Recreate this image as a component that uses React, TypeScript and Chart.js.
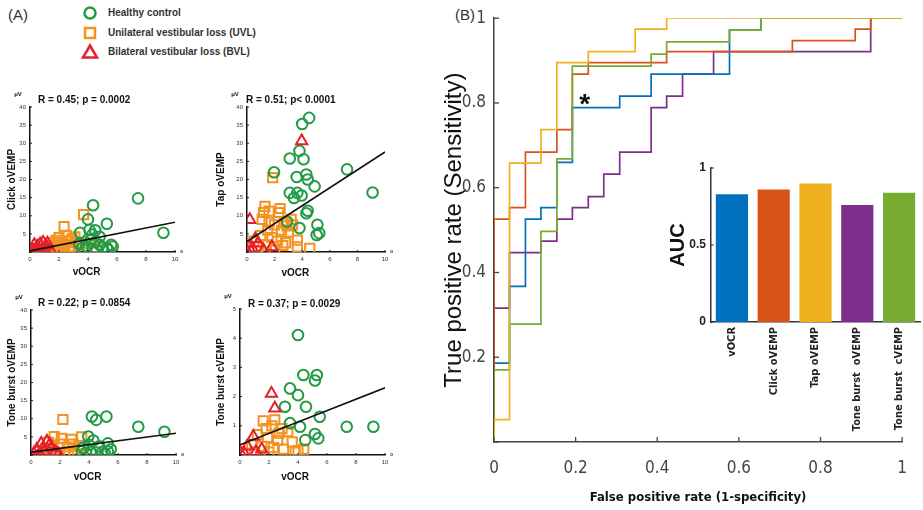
import React, { useEffect, useRef } from "react";
import { Chart, registerables } from "chart.js";

Chart.register(...registerables);

const SANS = "'Liberation Sans', Arial, Helvetica, sans-serif";
const NARROW = "'Liberation Sans Narrow', 'Arial Narrow', 'DejaVu Sans Condensed', 'Liberation Sans', Arial, sans-serif";
Chart.defaults.font.family = SANS;

const C_HEALTHY = "#239b45";
const C_UVL = "#f5921f";
const C_BVL = "#e4212b";

// ---------- Panel A data: [vOCR, amplitude] ----------
const CLICK_HEALTHY = [[7.45,14.8],[9.2,5.3],[4.35,12.9],[4.0,9.0],[5.3,7.8],[3.45,5.3],[4.1,6.1],[4.5,6.0],[4.3,4.8],[4.8,4.2],[5.6,2.0],[5.3,1.1],[3.6,1.1],[3.9,1.6],[4.8,2.0],[5.4,0.6],[4.5,2.8],[4.2,3.5],[3.8,0.6],[5.0,1.2],[4.6,0.5],[3.4,2.2],[5.7,1.5]];
const CLICK_UVL = [[3.7,10.3],[2.35,7.0],[2.5,4.6],[2.0,4.0],[1.8,3.2],[2.2,2.6],[2.7,3.1],[1.5,1.6],[1.7,0.5],[2.0,1.2],[2.4,0.8],[2.8,1.5],[3.0,0.4],[1.2,0.8],[3.2,2.6],[1.9,2.0],[2.9,3.6],[1.6,2.6],[3.4,0.9],[2.3,1.9],[4.0,2.4],[4.4,1.2],[0.8,0.3],[1.3,0.2],[2.7,0.2],[2.1,0.3],[3.1,4.2]];
const CLICK_BVL = [[0.2,0.5],[0.5,1.5],[0.7,2.2],[0.9,2.6],[1.1,1.8],[0.4,0.8],[0.8,0.6],[1.2,2.4],[0.6,0.2],[1.0,1.0],[0.3,2.0],[0.1,0.2],[1.4,0.6]];
const CLICK_FIT = [0.3, 8.2];

const TAP_HEALTHY = [[4.5,37],[4.0,35.3],[9.1,16.4],[7.25,22.8],[3.8,27.9],[3.1,25.8],[4.1,25.6],[1.96,22],[3.6,20.7],[4.3,21.4],[4.4,20],[4.9,18.1],[3.1,16.3],[3.65,16.3],[3.96,15.6],[3.4,14.9],[4.4,11.4],[4.3,10.7],[3.8,6.6],[5.1,7.5],[5.24,5.2],[5.05,4.7],[2.9,8.4]];
const TAP_UVL = [[1.86,20.5],[1.3,12.6],[1.6,11.3],[1.2,10.9],[2.3,10.9],[3.2,9.0],[2.7,8.0],[2.0,7.5],[1.5,6.0],[2.5,6.0],[1.0,4.5],[1.8,4.0],[2.2,3.0],[3.0,5.5],[2.9,7.2],[3.65,3.3],[3.65,1.4],[4.55,1.0],[1.4,2.0],[2.6,1.8],[0.8,1.5],[2.0,0.8],[3.3,7.5],[1.6,8.2],[2.4,12.0],[1.1,9.0],[0.5,3.0],[2.8,2.5]];
const TAP_BVL = [[3.96,30.6],[0.2,8.9],[0.8,2.4],[0.0,0.3],[1.8,1.4],[0.4,1.0],[0.6,3.6],[0.3,0.1],[1.2,0.5]];
const TAP_FIT = [2.9, 27.6];

const TBO_HEALTHY = [[4.2,10.6],[4.5,9.7],[5.2,10.6],[7.4,7.8],[9.2,6.4],[3.95,5.1],[5.3,3.2],[4.3,4.0],[3.5,1.0],[3.8,0.6],[4.1,0.8],[4.5,0.7],[4.9,0.8],[5.3,1.0],[5.5,1.6],[3.6,2.0],[4.7,2.4],[5.1,0.4],[4.0,2.8]];
const TBO_UVL = [[2.2,9.8],[1.6,5.1],[2.8,4.3],[3.5,5.0],[1.2,3.5],[2.0,3.0],[2.5,2.2],[1.5,1.5],[3.0,1.0],[1.8,0.6],[2.3,0.4],[0.9,0.3],[2.9,3.0],[3.3,2.5],[1.0,1.8],[2.6,0.9],[3.6,0.3],[1.4,0.5],[2.1,4.6]];
const TBO_BVL = [[0.7,3.2],[1.1,3.8],[0.4,1.5],[0.9,1.0],[1.4,2.0],[0.2,0.4],[0.6,0.5],[1.7,0.8],[1.9,0.3],[1.3,3.0]];
const TBO_FIT = [0.8, 6.0];

const TBC_HEALTHY = [[4.0,4.11],[4.37,2.74],[5.3,2.74],[5.17,2.55],[3.45,2.28],[4.0,2.05],[3.1,1.65],[4.55,1.65],[5.5,1.31],[3.45,1.09],[4.14,0.97],[7.36,0.97],[9.2,0.97],[5.17,0.72],[5.4,0.57],[4.5,0.51]];
const TBC_UVL = [[1.6,1.17],[2.2,1.0],[2.9,0.9],[3.3,0.8],[1.2,0.7],[1.9,0.6],[2.6,0.5],[3.6,0.45],[1.5,0.3],[2.3,0.25],[3.0,0.2],[4.0,0.15],[0.8,0.35],[1.0,0.1],[2.0,0.1],[2.7,0.75],[3.8,0.1],[4.4,0.2],[1.8,0.9],[2.4,1.2]];
const TBC_BVL = [[2.17,2.11],[2.4,1.6],[0.92,0.63],[0.0,0.1],[1.1,0.1],[0.5,0.3],[0.3,0.05],[1.5,0.2]];
const TBC_FIT = [0.35, 2.3];

// ---------- Panel B data ----------
const ROC_NAMES = ["vOCR", "Click oVEMP", "Tap oVEMP", "Tone burst oVEMP", "Tone burst cVEMP"];
const ROC_COLORS = ["#0072BD", "#D95319", "#EDB120", "#7E2F8E", "#77AC30"];
const VOCR_FPR = [0, 0, 0.038, 0.077, 0.115, 0.154, 0.192, 0.308, 0.385, 0.577, 0.654, 1];
const VOCR_TPR = [0, 0.186, 0.367, 0.526, 0.553, 0.66, 0.789, 0.816, 0.868, 0.972, 1, 1];
const CLICK_FPR = [0, 0, 0.038, 0.077, 0.154, 0.192, 0.231, 0.423, 0.731, 0.885, 0.923, 1];
const CLICK_TPR = [0, 0.526, 0.553, 0.684, 0.737, 0.868, 0.895, 0.921, 0.947, 0.974, 1, 1];
const TAP_FPR = [0, 0, 0.038, 0.115, 0.154, 0.231, 0.346, 0.423, 1];
const TAP_TPR = [0, 0.053, 0.658, 0.737, 0.895, 0.921, 0.974, 1, 1];
const TBO_FPR = [0, 0, 0.038, 0.115, 0.154, 0.192, 0.231, 0.269, 0.308, 0.385, 0.423, 0.462, 0.538, 0.923, 1];
const TBO_TPR = [0, 0.316, 0.447, 0.474, 0.526, 0.553, 0.579, 0.632, 0.684, 0.789, 0.816, 0.868, 0.921, 1, 1];
const TBC_FPR = [0, 0, 0.038, 0.115, 0.154, 0.192, 0.385, 0.423, 0.577, 0.654, 1];
const TBC_TPR = [0, 0.17, 0.278, 0.497, 0.668, 0.887, 0.915, 0.944, 0.972, 1, 1];

const AUC_LABELS = ["vOCR", "Click oVEMP", "Tap oVEMP", "Tone burst  oVEMP", "Tone burst  cVEMP"];
const AUC_VALUES = [0.83, 0.86, 0.90, 0.76, 0.84];

const toXY = (pts: number[][]) => pts.map(([x, y]) => ({ x, y }));

type Panel = {
  yTitle: string; stat: string; healthy: number[][]; uvl: number[][]; bvl: number[][]; fit: number[];
  yMax: number; yStep: number;
  left: number; top: number; yW: number; padR: number; padT: number; titlePad: number;
  statDx: number; statDy: number; xLabelAt: number; xLabelDy: number;
};

const PANELS: Panel[] = [
  { yTitle: "Click oVEMP", stat: "R = 0.45; p = 0.0002", healthy: CLICK_HEALTHY, uvl: CLICK_UVL, bvl: CLICK_BVL, fit: CLICK_FIT, yMax: 40, yStep: 5,
    left: 0, top: 80, yW: 30, padR: 25, padT: 27, titlePad: 6, statDx: 8, statDy: -7, xLabelAt: 3.9, xLabelDy: 20 },
  { yTitle: "Tap oVEMP", stat: "R = 0.51; p< 0.0001", healthy: TAP_HEALTHY, uvl: TAP_UVL, bvl: TAP_BVL, fit: TAP_FIT, yMax: 40, yStep: 5,
    left: 200, top: 80, yW: 47, padR: 15, padT: 27, titlePad: 15, statDx: -1, statDy: -7, xLabelAt: 3.5, xLabelDy: 21 },
  { yTitle: "Tone burst oVEMP", stat: "R = 0.22; p = 0.0854", healthy: TBO_HEALTHY, uvl: TBO_UVL, bvl: TBO_BVL, fit: TBO_FIT, yMax: 40, yStep: 5,
    left: 0, top: 283, yW: 31, padR: 24, padT: 27, titlePad: 6, statDx: 7, statDy: -7, xLabelAt: 3.9, xLabelDy: 22 },
  { yTitle: "Tone burst cVEMP", stat: "R = 0.37; p = 0.0029", healthy: TBC_HEALTHY, uvl: TBC_UVL, bvl: TBC_BVL, fit: TBC_FIT, yMax: 5, yStep: 1,
    left: 200, top: 283, yW: 40, padR: 15, padT: 26, titlePad: 15, statDx: 8, statDy: -5, xLabelAt: 3.8, xLabelDy: 22 },
];

function scatterConfig(p: Panel): any {
  const decor = {
    id: "scatterDecor",
    afterDraw(chart: any) {
      const { ctx, chartArea: a, scales } = chart;
      ctx.save();
      ctx.strokeStyle = "#222";
      ctx.lineWidth = 1;
      scales.x.ticks.forEach((t: any) => {
        const px = scales.x.getPixelForValue(t.value);
        ctx.beginPath(); ctx.moveTo(px, a.bottom); ctx.lineTo(px, a.bottom - 2); ctx.stroke();
      });
      scales.y.ticks.forEach((t: any) => {
        const py = scales.y.getPixelForValue(t.value);
        ctx.beginPath(); ctx.moveTo(a.left, py); ctx.lineTo(a.left + 2, py); ctx.stroke();
      });
      ctx.fillStyle = "#111";
      ctx.textBaseline = "middle";
      ctx.textAlign = "left";
      ctx.font = `bold 10px ${SANS}`;
      ctx.fillText(p.stat, a.left + p.statDx, a.top + p.statDy);
      ctx.textAlign = "center";
      ctx.font = `bold 10px ${SANS}`;
      ctx.fillText("vOCR", scales.x.getPixelForValue(p.xLabelAt), a.bottom + p.xLabelDy);
      ctx.font = `bold 6px ${SANS}`;
      ctx.fillText("\u03bcV", a.left - 12, a.top - 13);
      ctx.font = `bold 8px ${SANS}`;
      ctx.textAlign = "left";
      ctx.fillText("\u00b0", a.right + 5, a.bottom + 2);
      ctx.restore();
    },
  };
  const tickFont = { size: 6, family: SANS };
  return {
    type: "scatter",
    data: {
      datasets: [
        { type: "line", label: "fit", data: [{ x: 0, y: p.fit[0] }, { x: 10, y: p.fit[1] }], borderColor: "#111", borderWidth: 1.6, pointRadius: 0, fill: false },
        { label: "Bilateral vestibular loss (BVL)", data: toXY(p.bvl), pointStyle: "triangle", pointRadius: 6.5, borderColor: C_BVL, pointBorderColor: C_BVL, backgroundColor: "rgba(0,0,0,0)", pointBackgroundColor: "rgba(0,0,0,0)", borderWidth: 2 },
        { label: "Healthy control", data: toXY(p.healthy), pointStyle: "circle", pointRadius: 5.3, borderColor: C_HEALTHY, pointBorderColor: C_HEALTHY, backgroundColor: "rgba(0,0,0,0)", pointBackgroundColor: "rgba(0,0,0,0)", borderWidth: 2 },
        { label: "Unilateral vestibular loss (UVL)", data: toXY(p.uvl), pointStyle: "rect", pointRadius: 6.5, borderColor: C_UVL, pointBorderColor: C_UVL, backgroundColor: "rgba(0,0,0,0)", pointBackgroundColor: "rgba(0,0,0,0)", borderWidth: 2 },
      ],
    },
    options: {
      animation: false,
      responsive: false,
      events: [],
      layout: { padding: { left: 0, right: p.padR, top: p.padT, bottom: 0 } },
      plugins: { legend: { display: false }, tooltip: { enabled: false } },
      scales: {
        x: {
          type: "linear", min: 0, max: 10,
          ticks: { stepSize: 2, font: tickFont, color: "#333", padding: 4 },
          grid: { display: false, drawTicks: false },
          border: { display: true, color: "#111", width: 1.5 },
          afterFit: (s: any) => { s.height = 28; },
        },
        y: {
          type: "linear", min: 0, max: p.yMax,
          ticks: { stepSize: p.yStep, font: tickFont, color: "#333", padding: 4, callback: (v: any) => (Number(v) === 0 ? "" : String(v)) },
          grid: { display: false, drawTicks: false },
          border: { display: true, color: "#111", width: 1.5 },
          title: { display: true, text: p.yTitle, font: { size: 10, weight: "bold", family: SANS }, color: "#111", padding: { top: p.titlePad, bottom: 0 } },
          afterFit: (s: any) => { s.width = p.yW; },
        },
      },
    },
    plugins: [decor],
  };
}

const fmtTick = (v: any) => {
  const n = Math.round(Number(v) * 10) / 10;
  return String(n);
};

function rocConfig(): any {
  const fprs = [VOCR_FPR, CLICK_FPR, TAP_FPR, TBO_FPR, TBC_FPR];
  const tprs = [VOCR_TPR, CLICK_TPR, TAP_TPR, TBO_TPR, TBC_TPR];
  const drawOrder = [2, 4, 1, 0, 3]; // first is on top
  const decor = {
    id: "rocDecor",
    afterDraw(chart: any) {
      const { ctx, chartArea: a, scales } = chart;
      ctx.save();
      ctx.strokeStyle = "#444";
      ctx.lineWidth = 1.3;
      scales.x.ticks.forEach((t: any) => {
        const px = scales.x.getPixelForValue(t.value);
        ctx.beginPath(); ctx.moveTo(px, a.bottom); ctx.lineTo(px, a.bottom - 5); ctx.stroke();
      });
      scales.y.ticks.forEach((t: any) => {
        const py = scales.y.getPixelForValue(t.value);
        ctx.beginPath(); ctx.moveTo(a.left, py); ctx.lineTo(a.left + 5, py); ctx.stroke();
      });
      ctx.fillStyle = "#111";
      ctx.font = `bold 28px ${SANS}`;
      ctx.textAlign = "center";
      ctx.textBaseline = "middle";
      ctx.fillText("*", scales.x.getPixelForValue(0.222), scales.y.getPixelForValue(0.809) + 6);
      ctx.restore();
    },
  };
  const tickFont = { size: 17, family: NARROW };
  return {
    type: "line",
    data: {
      datasets: drawOrder.map((i) => ({
        label: ROC_NAMES[i],
        data: fprs[i].map((x, k) => ({ x, y: tprs[i][k] })),
        borderColor: ROC_COLORS[i],
        borderWidth: 1.7,
        pointRadius: 0,
        stepped: "before",
        fill: false,
      })),
    },
    options: {
      animation: false,
      responsive: false,
      events: [],
      layout: { padding: { left: 0, right: 4, top: 17, bottom: 0 } },
      plugins: { legend: { display: false }, tooltip: { enabled: false } },
      scales: {
        x: {
          type: "linear", min: 0, max: 1,
          ticks: { stepSize: 0.2, font: tickFont, color: "#444", padding: 16, callback: fmtTick },
          grid: { display: false, drawTicks: false },
          border: { display: true, color: "#444", width: 1.5 },
          title: { display: true, text: "False positive rate (1-specificity)", font: { size: 13, weight: "bold", family: NARROW }, color: "#111", padding: { top: 0, bottom: 5 } },
          afterFit: (s: any) => { s.height = 68; },
        },
        y: {
          type: "linear", min: 0, max: 1,
          ticks: { stepSize: 0.2, font: tickFont, color: "#444", padding: 8, callback: (v: any) => (Number(v) === 0 ? "" : fmtTick(v)) },
          grid: { display: false, drawTicks: false },
          border: { display: true, color: "#444", width: 1.5 },
          title: { display: true, text: "True positive rate (Sensitivity)", font: { size: 24, family: SANS }, color: "#111", padding: { top: 0, bottom: 0 } },
          afterFit: (s: any) => { s.width = 54; },
        },
      },
    },
    plugins: [decor],
  };
}

function aucConfig(): any {
  const decor = {
    id: "aucDecor",
    afterDraw(chart: any) {
      const { ctx, chartArea: a, scales } = chart;
      ctx.save();
      ctx.strokeStyle = "#333";
      ctx.lineWidth = 1;
      scales.y.ticks.forEach((t: any) => {
        const py = scales.y.getPixelForValue(t.value);
        ctx.beginPath(); ctx.moveTo(a.left, py); ctx.lineTo(a.left + 3, py); ctx.stroke();
      });
      ctx.restore();
    },
  };
  return {
    type: "bar",
    data: {
      labels: AUC_LABELS,
      datasets: [{ label: "AUC", data: AUC_VALUES, backgroundColor: ROC_COLORS, barPercentage: 0.77, categoryPercentage: 1 }],
    },
    options: {
      animation: false,
      responsive: false,
      events: [],
      layout: { padding: { left: 0, right: 3, top: 18, bottom: 0 } },
      plugins: { legend: { display: false }, tooltip: { enabled: false } },
      scales: {
        x: {
          ticks: { minRotation: 90, maxRotation: 90, autoSkip: false, font: { size: 11, weight: "bold", family: NARROW }, color: "#222", padding: 5 },
          grid: { display: false, drawTicks: false },
          border: { display: true, color: "#333", width: 1.5 },
          afterFit: (s: any) => { s.height = 118; },
        },
        y: {
          min: 0, max: 1,
          ticks: { stepSize: 0.5, font: { size: 12, weight: "bold", family: SANS }, color: "#222", padding: 5, callback: fmtTick },
          grid: { display: false, drawTicks: false },
          border: { display: true, color: "#333", width: 1.5 },
          title: { display: true, text: "AUC", font: { size: 20, weight: "bold", family: SANS }, color: "#111", padding: { top: 6, bottom: 0 } },
          afterFit: (s: any) => { s.width = 51; },
        },
      },
    },
    plugins: [decor],
  };
}

function ChartBox({ left, top, width, height, make }: { left: number; top: number; width: number; height: number; make: () => any }) {
  const ref = useRef<HTMLCanvasElement>(null);
  useEffect(() => {
    const chart = new Chart(ref.current as HTMLCanvasElement, make());
    return () => chart.destroy();
  }, []);
  return (
    <canvas ref={ref} width={width} height={height}
      style={{ position: "absolute", left, top, width, height, display: "block" }} />
  );
}

const LEGEND_ITEMS = ["Healthy control", "Unilateral vestibular loss (UVL)", "Bilateral vestibular loss (BVL)"];

export default function App() {
  return (
    <div style={{ position: "absolute", left: 0, top: 0, width: 923, height: 510, background: "#fff", overflow: "hidden", fontFamily: SANS }}>
      <div style={{ position: "absolute", left: 8, top: 6, fontSize: 15, color: "#333" }}>(A)</div>
      <div style={{ position: "absolute", left: 455, top: 6, fontSize: 15, color: "#333" }}>(B)</div>
      <svg style={{ position: "absolute", left: 0, top: 0 }} width={110} height={70}>
        <circle cx={90} cy={13} r={5.5} fill="none" stroke={C_HEALTHY} strokeWidth={2.5} />
        <rect x={85} y={28} width={10} height={10} fill="none" stroke={C_UVL} strokeWidth={2.5} />
        <polygon points="90,45.5 97,57.5 83,57.5" fill="none" stroke={C_BVL} strokeWidth={2.5} />
      </svg>
      {LEGEND_ITEMS.map((t, i) => (
        <div key={t} style={{ position: "absolute", left: 108, top: [7, 27, 46][i], fontSize: 10, lineHeight: "12px", fontWeight: "bold", color: "#333", whiteSpace: "nowrap" }}>{t}</div>
      ))}
      {PANELS.map((p) => (
        <ChartBox key={p.yTitle} left={p.left} top={p.top} width={200} height={200} make={() => scatterConfig(p)} />
      ))}
      <ChartBox left={440} top={0} width={483} height={510} make={rocConfig} />
      <ChartBox left={660} top={150} width={263} height={290} make={aucConfig} />
    </div>
  );
}
